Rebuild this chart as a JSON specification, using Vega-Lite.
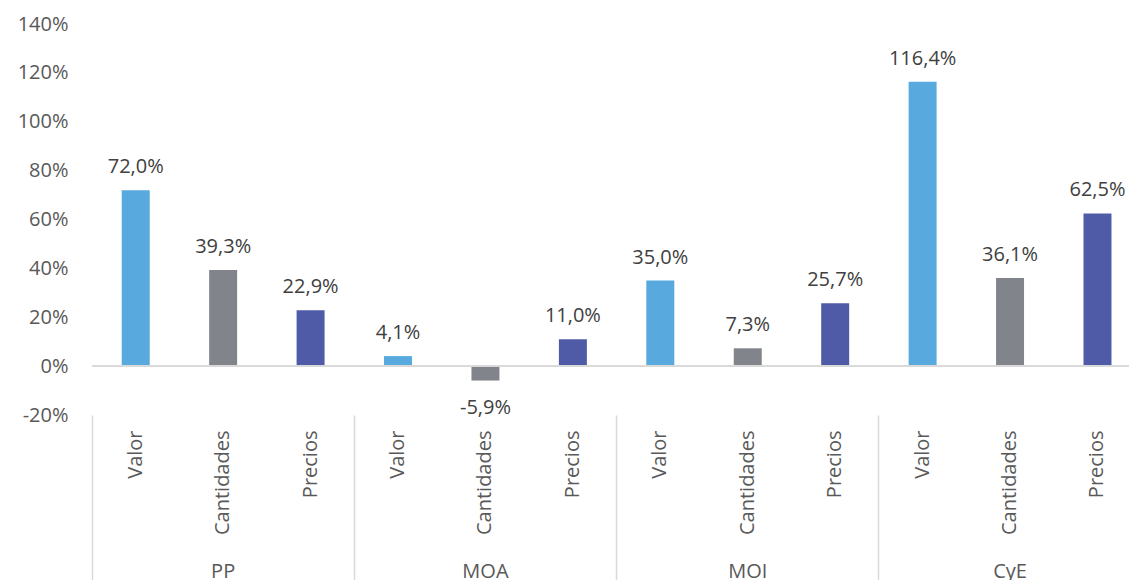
{
  "$schema": "https://vega.github.io/schema/vega-lite/v6.json",
  "width": 1037,
  "height": 391,
  "autosize": {"type": "none"},
  "padding": {"left": 92, "top": 24, "right": 0, "bottom": 165},
  "background": "white",
  "config": {
    "view": {"stroke": null},
    "font": "Open Sans",
    "locale": {"number": {"decimal": ",", "thousands": ".", "grouping": [3], "currency": ["", ""], "minus": "-"}}
  },
  "data": {
    "values": [
      {"grupo": "PP", "serie": "Valor", "clave": "PP Valor", "valor": 0.720},
      {"grupo": "PP", "serie": "Cantidades", "clave": "PP Cantidades", "valor": 0.393},
      {"grupo": "PP", "serie": "Precios", "clave": "PP Precios", "valor": 0.229},
      {"grupo": "MOA", "serie": "Valor", "clave": "MOA Valor", "valor": 0.041},
      {"grupo": "MOA", "serie": "Cantidades", "clave": "MOA Cantidades", "valor": -0.059},
      {"grupo": "MOA", "serie": "Precios", "clave": "MOA Precios", "valor": 0.110},
      {"grupo": "MOI", "serie": "Valor", "clave": "MOI Valor", "valor": 0.350},
      {"grupo": "MOI", "serie": "Cantidades", "clave": "MOI Cantidades", "valor": 0.073},
      {"grupo": "MOI", "serie": "Precios", "clave": "MOI Precios", "valor": 0.257},
      {"grupo": "CyE", "serie": "Valor", "clave": "CyE Valor", "valor": 1.164},
      {"grupo": "CyE", "serie": "Cantidades", "clave": "CyE Cantidades", "valor": 0.361},
      {"grupo": "CyE", "serie": "Precios", "clave": "CyE Precios", "valor": 0.625}
    ]
  },
  "resolve": {"axis": {"x": "independent"}},
  "layer": [
    {
      "mark": {"type": "bar", "width": {"band": 0.32}},
      "encoding": {
        "x": {
          "field": "clave", "type": "nominal",
          "scale": {
            "domain": ["PP Valor", "PP Cantidades", "PP Precios", "MOA Valor", "MOA Cantidades", "MOA Precios", "MOI Valor", "MOI Cantidades", "MOI Precios", "CyE Valor", "CyE Cantidades", "CyE Precios"],
            "range": [0, 1049.2],
            "paddingInner": 0,
            "paddingOuter": 0
          },
          "axis": {
            "orient": "bottom", "title": null, "domain": false, "ticks": false, "grid": false,
            "labelAngle": -90, "labelAlign": "right", "labelBaseline": "middle",
            "labelPadding": 15, "labelFontSize": 20, "labelColor": "#595959",
            "labelFont": "Open Sans",
            "labelExpr": "split(datum.value, ' ')[1]"
          }
        },
        "y": {
          "field": "valor", "type": "quantitative",
          "scale": {"domain": [-0.2, 1.4], "nice": false, "zero": false},
          "axis": {
            "title": null, "values": [-0.2, 0, 0.2, 0.4, 0.6, 0.8, 1.0, 1.2, 1.4],
            "format": ".0%", "domain": false, "ticks": false, "grid": false,
            "labelPadding": 24, "labelFontSize": 20, "labelColor": "#595959", "labelFont": "Open Sans"
          }
        },
        "color": {
          "field": "serie", "type": "nominal",
          "scale": {"domain": ["Valor", "Cantidades", "Precios"], "range": ["#57A9DE", "#81848A", "#4F5BA7"]},
          "legend": null
        }
      }
    },
    {
      "mark": {"type": "rule", "color": "#d9d9d9", "strokeWidth": 1.5},
      "encoding": {
        "y": {"datum": 0, "type": "quantitative"}
      }
    },
    {
      "transform": [{"filter": "datum.valor >= 0"}],
      "mark": {"type": "text", "baseline": "alphabetic", "dy": -17, "fontSize": 20, "color": "#404040", "font": "Open Sans"},
      "encoding": {
        "x": {
          "field": "clave", "type": "nominal",
          "axis": {
            "orient": "bottom", "title": null, "domain": false, "grid": false,
            "ticks": true, "tickSize": 166, "tickColor": "#d9d9d9", "tickWidth": 1.5,
            "bandPosition": 0,
            "values": ["PP Valor", "MOA Valor", "MOI Valor", "CyE Valor"],
            "labelExpr": "split(datum.value, ' ')[0]",
            "labelOffset": 87.43, "labelAngle": 0, "labelAlign": "center", "labelBaseline": "middle",
            "labelPadding": -9.5, "labelFontSize": 20, "labelColor": "#595959", "labelFont": "Open Sans"
          }
        },
        "y": {"field": "valor", "type": "quantitative"},
        "text": {"field": "valor", "type": "quantitative", "format": ".1%"}
      }
    },
    {
      "transform": [{"filter": "datum.valor < 0"}],
      "mark": {"type": "text", "baseline": "top", "dy": 17, "fontSize": 20, "color": "#404040", "font": "Open Sans"},
      "encoding": {
        "x": {"field": "clave", "type": "nominal", "axis": null},
        "y": {"field": "valor", "type": "quantitative"},
        "text": {"field": "valor", "type": "quantitative", "format": ".1%"}
      }
    }
  ]
}
